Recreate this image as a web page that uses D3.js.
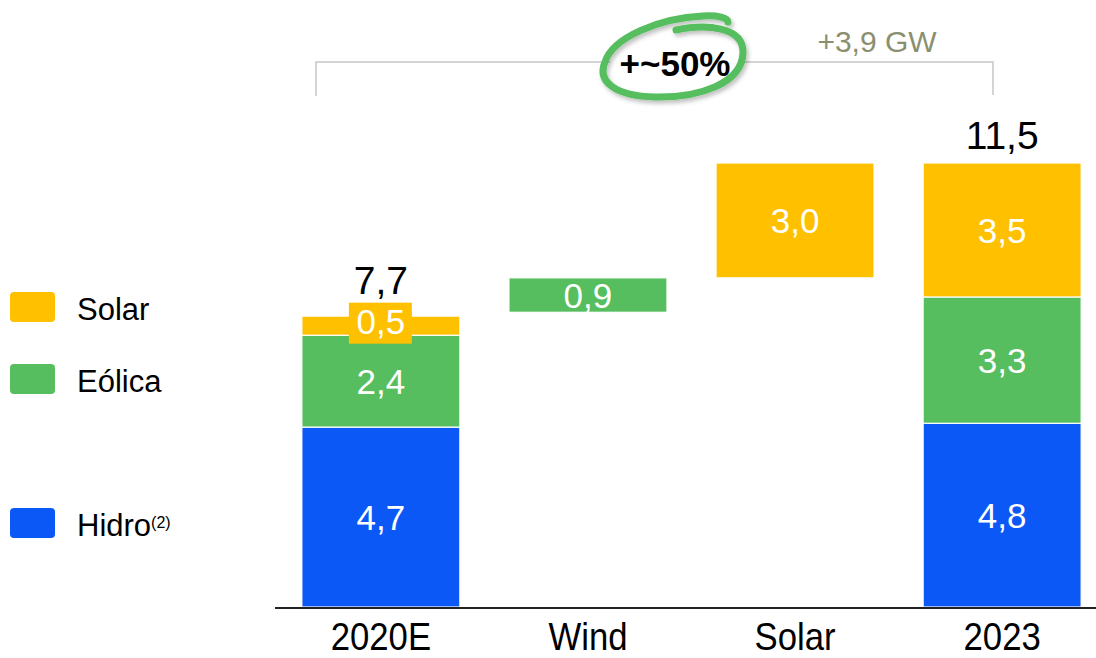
<!DOCTYPE html>
<html>
<head>
<meta charset="utf-8">
<script src="https://cdn.jsdelivr.net/npm/d3@7"></script>
<style>
  body { margin: 0; background: #fff; }
  svg { display: block; font-family: "Liberation Sans", Arial, sans-serif; }
</style>
</head>
<body>
<svg id="chart" width="1096" height="658"></svg>
<script>
// data
var categories = ["2020E", "Wind", "Solar", "2023"];
var hidro  = [4.7, 0, 0, 4.8];
var eolica = [2.4, 0.9, 0, 3.3];
var solar  = [0.5, 0, 3.0, 3.5];
var bases  = [0, 7.7, 8.6, 0];          // floating start of waterfall bars
var totalLabels = [{cat: "2020E", value: 7.7, text: "7,7"}, {cat: "2023", value: 11.5, text: "11,5"}];
var legendItems = ["Solar", "Eólica", "Hidro"];
var growthLabel = "+~50%";
var deltaLabel = "+3,9 GW";

var colors = {Hidro: "#0B58F6", "Eólica": "#56BE5E", Solar: "#FFC000"};

var svg = d3.select("#chart");

var x = d3.scaleBand()
    .domain(categories)
    .range([277, 1106])
    .paddingInner(0.237)
    .paddingOuter(0.12);

var y = d3.scaleLinear()
    .domain([0, 11.6])
    .range([607, 163]);

var fmt = function (v) { return d3.format(".1f")(v).replace(".", ","); };

// build segments
var segs = [];
categories.forEach(function (c, i) {
    var start = bases[i];
    [["Hidro", hidro[i]], ["Eólica", eolica[i]], ["Solar", solar[i]]].forEach(function (p) {
        if (p[1] > 0) {
            segs.push({cat: c, key: p[0], y0: start, y1: start + p[1], v: p[1]});
            start += p[1];
        }
    });
});

svg.selectAll(".seg")
    .data(segs)
    .enter()
    .append("rect")
    .classed("seg", true)
    .attr("x", d => x(d.cat))
    .attr("width", x.bandwidth())
    .attr("y", d => y(d.y1))
    .attr("height", d => y(d.y0) - y(d.y1))
    .attr("fill", d => colors[d.key])
    .attr("stroke", "#fff")
    .attr("stroke-width", 1.2);

// yellow box behind small label
var small = segs.filter(d => d.v < 0.7 && d.key === "Solar");
svg.selectAll(".lblbox")
    .data(small)
    .enter()
    .append("rect")
    .attr("x", d => x(d.cat) + x.bandwidth() / 2 - 32)
    .attr("y", d => (y(d.y0) + y(d.y1)) / 2 - 23)
    .attr("width", 63)
    .attr("height", 41)
    .attr("fill", colors.Solar);

svg.selectAll(".seglbl")
    .data(segs)
    .enter()
    .append("text")
    .attr("x", d => x(d.cat) + x.bandwidth() / 2)
    .attr("y", d => (y(d.y0) + y(d.y1)) / 2 - (d.v < 0.7 ? 4 : 0))
    .attr("dy", "0.36em")
    .attr("text-anchor", "middle")
    .attr("fill", "#fff")
    .style("font-size", "35px")
    .text(d => fmt(d.v));

// totals
svg.selectAll(".total")
    .data(totalLabels)
    .enter()
    .append("text")
    .attr("x", d => x(d.cat) + x.bandwidth() / 2)
    .attr("y", d => y(d.value) - 18)
    .attr("text-anchor", "middle")
    .attr("fill", "#000")
    .style("font-size", "39px")
    .text(d => d.text);

// baseline axis
svg.append("line")
    .attr("x1", 275).attr("x2", 1096)
    .attr("y1", y(0) + 1).attr("y2", y(0) + 1)
    .attr("stroke", "#222")
    .attr("stroke-width", 2);

var xAxis = svg.append("g")
    .attr("transform", "translate(0," + (y(0) + 1) + ")")
    .call(d3.axisBottom(x).tickSize(0));
xAxis.select(".domain").remove();
// condensed look: squeeze labels horizontally
xAxis.selectAll("text")
    .attr("fill", "#000")
    .attr("y", 0)
    .attr("dy", 0)
    .attr("transform", "translate(0,42) scale(0.89,1)")
    .style("font-size", "39px");

// legend
var legendY = {Solar: 292, "Eólica": 364, Hidro: 508};
var leg = svg.selectAll(".leg")
    .data(legendItems)
    .enter()
    .append("g")
    .attr("transform", d => "translate(10," + legendY[d] + ")");
leg.append("rect")
    .attr("width", 45)
    .attr("height", 30)
    .attr("rx", 4)
    .attr("fill", d => colors[d]);
var legText = leg.append("text")
    .attr("x", 67)
    .attr("y", 28)
    .attr("fill", "#000")
    .style("font-size", "31px")
    .text(d => d);
legText.filter(d => d === "Hidro")
    .append("tspan")
    .attr("dy", -8)
    .style("font-size", "16px")
    .text("(2)");

// bracket
var bx0 = 316, bx1 = 993, by = 62;
svg.append("path")
    .attr("d", "M" + bx0 + "," + (by + 34) + "V" + by + "H" + bx1 + "V" + (by + 33))
    .attr("fill", "none")
    .attr("stroke", "#c6c6c6")
    .attr("stroke-width", 1.5);

svg.append("text")
    .attr("x", 877)
    .attr("y", 52)
    .attr("text-anchor", "middle")
    .attr("fill", "#8A8F6F")
    .style("font-size", "30px")
    .text(deltaLabel);

// hand drawn circle around growth label
var defs = svg.append("defs");
var f = defs.append("filter").attr("id", "shadow").attr("x", "-20%").attr("y", "-20%").attr("width", "140%").attr("height", "160%");
f.append("feDropShadow").attr("dx", 2).attr("dy", 3).attr("stdDeviation", 2).attr("flood-color", "#000").attr("flood-opacity", 0.25);

svg.append("rect")
    .attr("x", 610).attr("y", 40).attr("width", 130).attr("height", 42)
    .attr("fill", "#fff");

svg.append("path")
    .attr("d", "M 676 30 C 705 24, 744 26, 743 53 C 742 83, 700 98, 655 97 C 614 96, 597 81, 605 62 C 613 37, 660 18, 703 16 C 718 15, 728 18, 728 22")
    .attr("fill", "none")
    .attr("stroke", "#56BE5E")
    .attr("stroke-width", 7)
    .attr("stroke-linecap", "round")
    .attr("filter", "url(#shadow)");

svg.append("text")
    .attr("x", 675)
    .attr("y", 76)
    .attr("text-anchor", "middle")
    .attr("fill", "#000")
    .style("font-size", "35px")
    .style("font-weight", "bold")
    .text(growthLabel);
</script>
</body>
</html>
